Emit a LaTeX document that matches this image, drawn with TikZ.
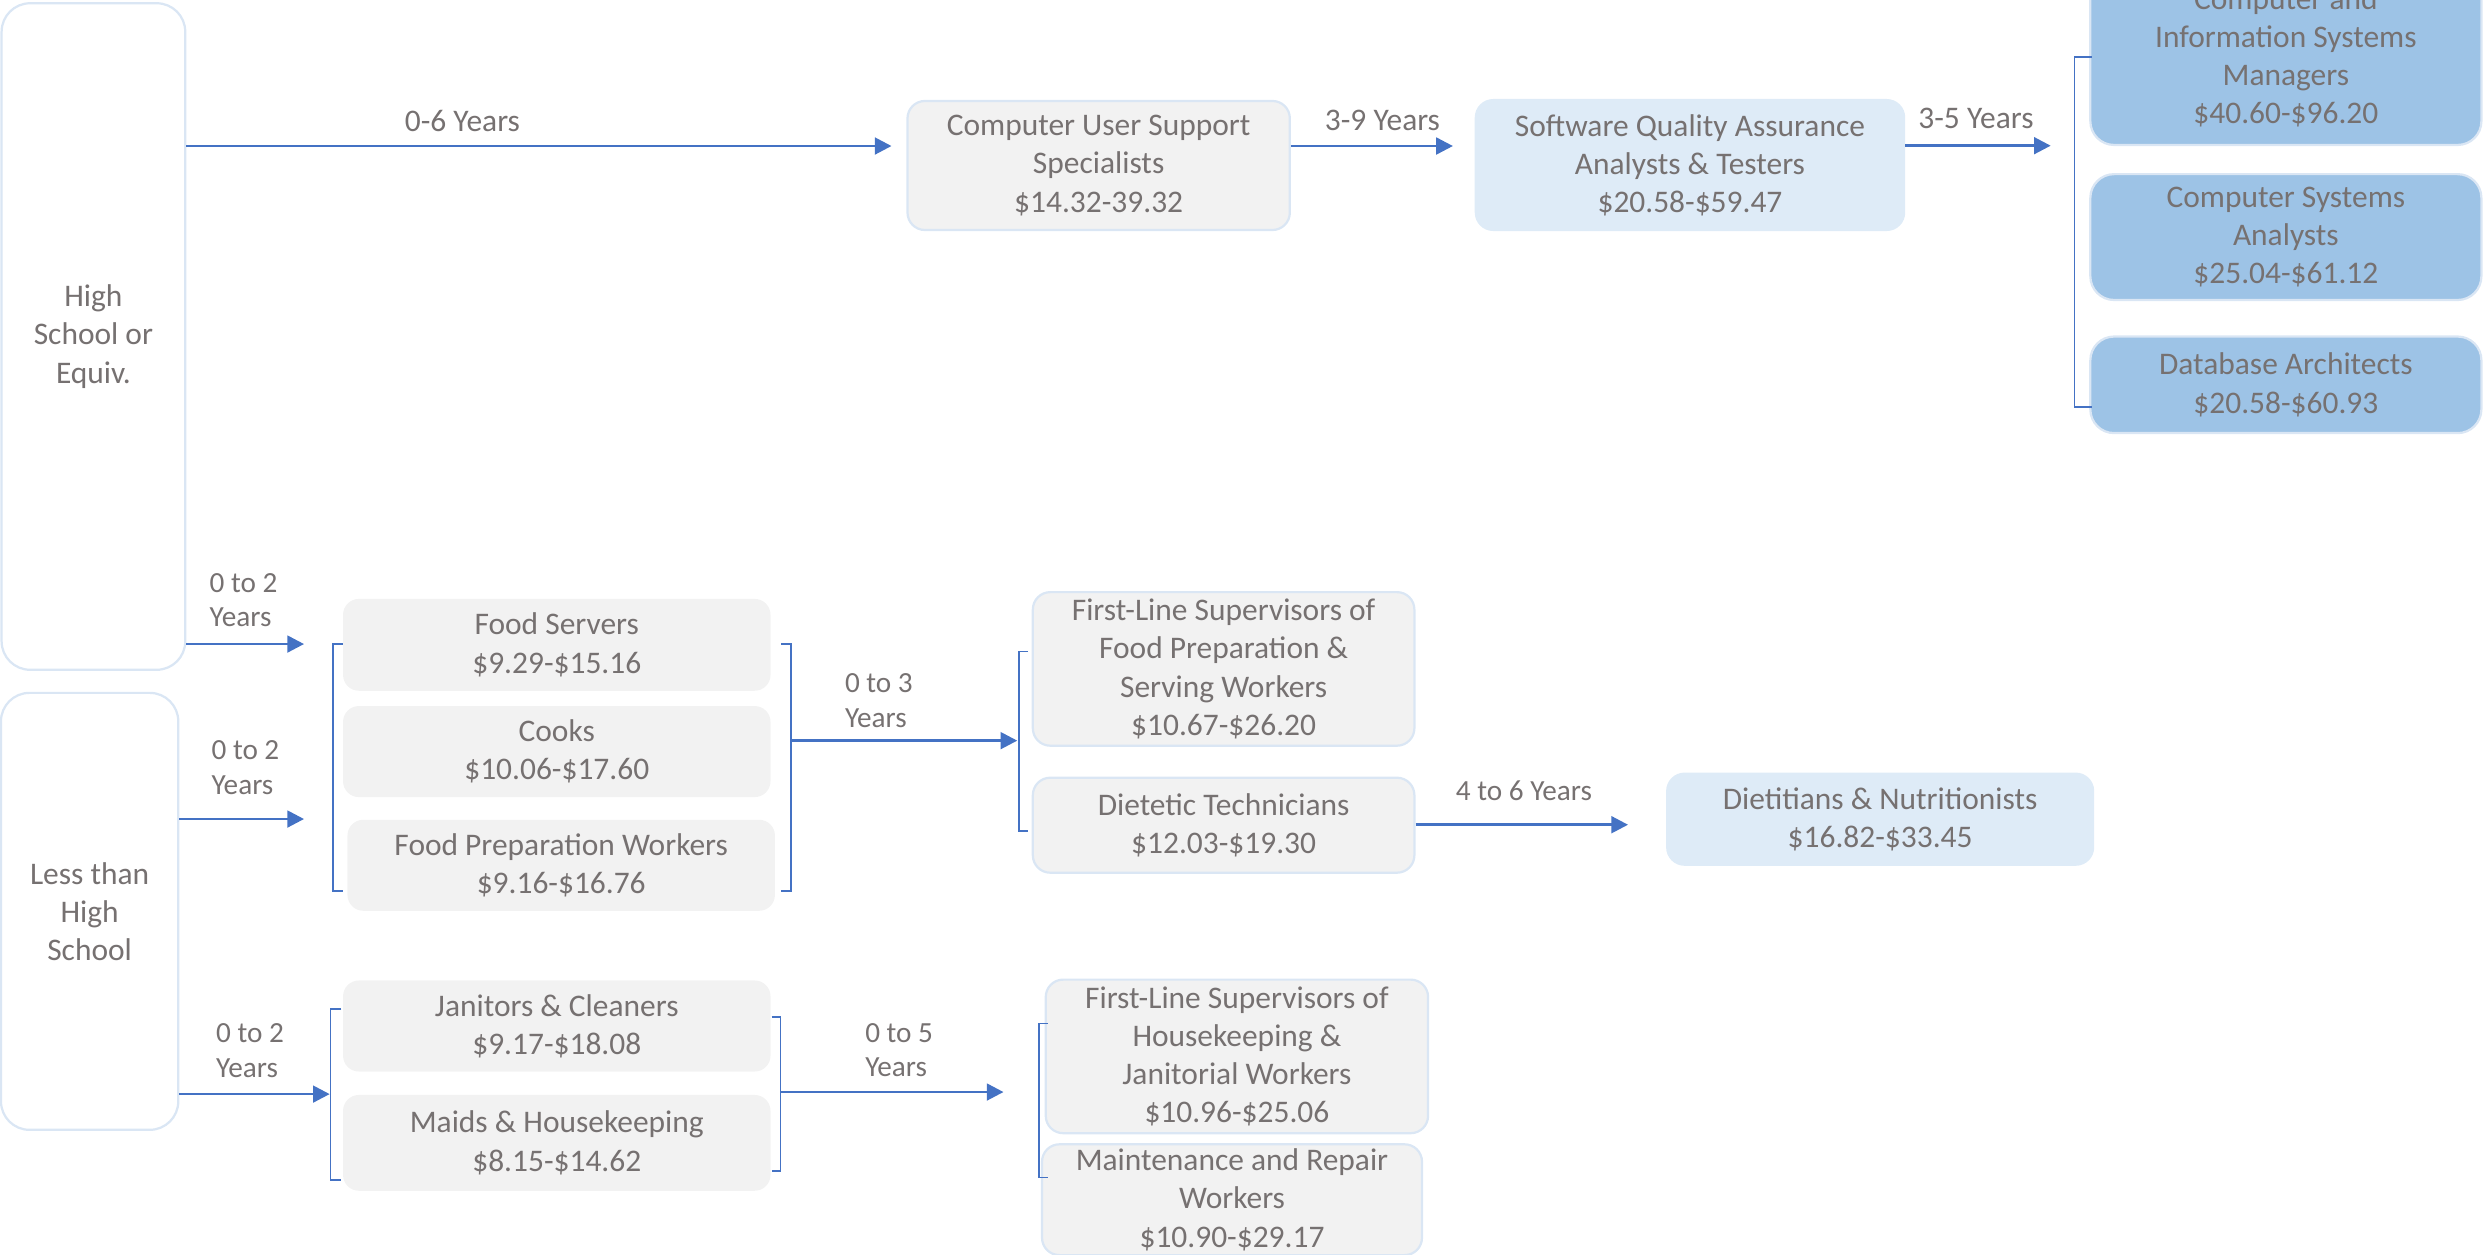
\documentclass[tikz,border=0pt]{standalone}
\usepackage{fontspec}
\setmainfont{Carlito}
\usetikzlibrary{arrows.meta}
\definecolor{lineblue}{HTML}{4472C4}
\definecolor{txtgray}{HTML}{767171}
\definecolor{edgeblue}{HTML}{DAE6F4}
\definecolor{boxgray}{HTML}{F2F2F2}
\definecolor{paleblue}{HTML}{DEEBF7}
\definecolor{midblue}{HTML}{9DC3E6}

\begin{document}
\begin{tikzpicture}[x=0.02cm,y=-0.02cm,
    every node/.style={text=txtgray,font=\fontsize{11.3}{13.7}\selectfont,align=center,inner sep=0pt},
    edu/.style={draw=edgeblue,line width=0.8pt,fill=white,rounded corners=0.36cm},
    job/.style={draw=edgeblue,line width=0.8pt,fill=boxgray,rounded corners=0.22cm},
    flat/.style={fill=boxgray,rounded corners=0.2cm},
    pale/.style={draw=paleblue,line width=0.8pt,fill=paleblue,rounded corners=0.22cm},
    deep/.style={draw=edgeblue,line width=0.8pt,fill=midblue,rounded corners=0.3cm},
    yrs/.style={font=\fontsize{10.5}{12.5}\selectfont,align=left},
    arr/.style={lineblue,line width=1pt,-{Triangle[length=6pt,width=6pt]}},
    brk/.style={lineblue,line width=0.6pt}]
    \useasboundingbox (0,0) rectangle (1568,792);

    % education levels
    \node[edu,minimum width=2.32cm,minimum height=8.42cm] (hs) at (59,212.5) {High\\School or\\Equiv.};
    \node[edu,minimum width=2.24cm,minimum height=5.52cm] (lhs) at (56.6,575.5) {Less than\\High\\School};

    % computer track
    \node[job,minimum width=4.83cm,minimum height=1.63cm] (cus) at (693.8,104.5) {Computer User Support\\Specialists\\\$14.32-39.32};
    \node[pale,minimum width=5.41cm,minimum height=1.64cm] (sqa) at (1067.2,104.2) {Software Quality Assurance\\Analysts \& Testers\\\$20.58-\$59.47};
    \node[deep,minimum width=4.94cm,minimum height=2.21cm] (mgr) at (1443.5,36.3) {Computer and\\Information Systems\\Managers\\\$40.60-\$96.20};
    \node[deep,minimum width=4.94cm,minimum height=1.59cm] (csa) at (1443.5,149.7) {Computer Systems\\Analysts\\\$25.04-\$61.12};
    \node[deep,minimum width=4.94cm,minimum height=1.22cm] (dba) at (1443.5,243) {Database Architects\\\$20.58-\$60.93};

    % food track
    \node[flat,minimum width=5.40cm,minimum height=1.16cm] (fsrv) at (351.6,407.2) {Food Servers\\\$9.29-\$15.16};
    \node[flat,minimum width=5.40cm,minimum height=1.15cm] (cook) at (351.6,474.6) {Cooks\\\$10.06-\$17.60};
    \node[flat,minimum width=5.40cm,minimum height=1.15cm] (fprep) at (354.4,546.4) {Food Preparation Workers\\\$9.16-\$16.76};
    \node[job,minimum width=4.82cm,minimum height=1.94cm] (fsup) at (772.7,422.4) {First-Line Supervisors of\\Food Preparation \&\\Serving Workers\\\$10.67-\$26.20};
    \node[job,minimum width=4.82cm,minimum height=1.20cm] (diet) at (772.7,521.1) {Dietetic Technicians\\\$12.03-\$19.30};
    \node[pale,minimum width=5.38cm,minimum height=1.15cm] (nutr) at (1187.3,517.3) {Dietitians \& Nutritionists\\\$16.82-\$33.45};

    % cleaning track
    \node[flat,minimum width=5.40cm,minimum height=1.15cm] (jan) at (351.6,647.9) {Janitors \& Cleaners\\\$9.17-\$18.08};
    \node[flat,minimum width=5.40cm,minimum height=1.21cm] (maid) at (351.6,721.7) {Maids \& Housekeeping\\\$8.15-\$14.62};
    \node[job,minimum width=4.83cm,minimum height=1.94cm] (hsup) at (781.1,667.1) {First-Line Supervisors of\\Housekeeping \&\\Janitorial Workers\\\$10.96-\$25.06};
    \node[job,minimum width=4.80cm,minimum height=1.40cm] (mnt) at (778,757.6) {Maintenance and Repair\\Workers\\\$10.90-\$29.17};

    % arrow ends
    \coordinate (t1) at (563,92.2);
    \coordinate (t2) at (917.5,92.2);
    \coordinate (t3) at (1295,92);
    \coordinate (t4) at (192,406.7);
    \coordinate (t5) at (192,517.2);
    \coordinate (t6) at (208.2,690.9);
    \coordinate (t7) at (642.4,467.7);
    \coordinate (t8) at (633.7,689.6);
    \coordinate (t9) at (1028.1,520.8);

    \draw[arr] (hs.east |- t1) -- (t1);
    \draw[arr] (cus.east |- t2) -- (t2);
    \draw[arr] (sqa.east |- t3) -- (t3);
    \draw[arr] (hs.east |- t4) -- (t4);
    \draw[arr] (lhs.east |- t5) -- (t5);
    \draw[arr] (lhs.east |- t6) -- (t6);
    \draw[arr] (499.4,467.7) -- (t7);
    \draw[arr] (492.9,689.6) -- (t8);
    \draw[arr] (diet.east |- t9) -- (t9);

    \node (l1) at (292,76.7) {0-6 Years};
    \node (l2) at (873,75.8) {3-9 Years};
    \node (l3) at (1247.8,74.7) {3-5 Years};
    \node[yrs] (l4) at (153.8,379) {0 to 2\\Years};
    \node[yrs] (l5) at (155,484.7) {0 to 2\\Years};
    \node[yrs] (l6) at (157.9,663.3) {0 to 2\\Years};
    \node[yrs] (l7) at (555,442.4) {0 to 3\\Years};
    \node[yrs] (l8) at (567.8,663.1) {0 to 5\\Years};
    \node[yrs,font=\fontsize{10.5}{12.5}\selectfont] (l9) at (962.4,499.5) {4 to 6 Years};

    % brackets
    \draw[brk] (1321,35.8) -- (1310,35.8) -- (1310,257) -- (1321,257);
    \draw[brk] (216.3,406.7) -- (210.2,406.7) -- (210.2,562.7) -- (216.3,562.7);
    \draw[brk] (493.3,406.7) -- (499.4,406.7) -- (499.4,562.7) -- (493.3,562.7);
    \draw[brk] (649.2,411.5) -- (643.4,411.5) -- (643.4,524.7) -- (649.2,524.7);
    \draw[brk] (215.5,637.3) -- (208.8,637.3) -- (208.8,745) -- (215.5,745);
    \draw[brk] (487.3,642.4) -- (492.9,642.4) -- (492.9,739.4) -- (487.3,739.4);
    \draw[brk] (661.8,646.3) -- (656,646.3) -- (656,743.6) -- (661.8,743.6);
\end{tikzpicture}
\end{document}
